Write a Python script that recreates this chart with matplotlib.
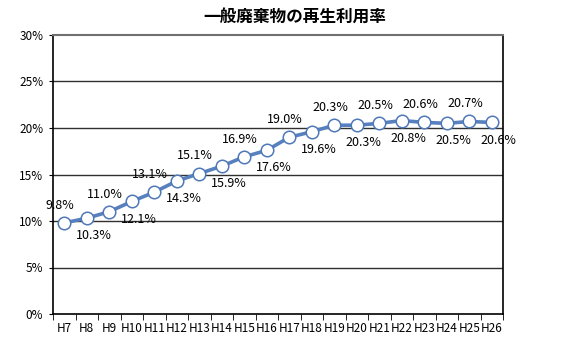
import matplotlib.pyplot as plt
import numpy as np

plt.rcParams['font.family'] = ['Noto Sans CJK JP', 'DejaVu Sans']

# data
years = ['H7', 'H8', 'H9', 'H10', 'H11', 'H12', 'H13', 'H14', 'H15', 'H16',
         'H17', 'H18', 'H19', 'H20', 'H21', 'H22', 'H23', 'H24', 'H25', 'H26']
rates = [9.8, 10.3, 11.0, 12.1, 13.1, 14.3, 15.1, 15.9, 16.9, 17.6,
         19.0, 19.6, 20.3, 20.3, 20.5, 20.8, 20.6, 20.5, 20.7, 20.6]
yticks = [0, 5, 10, 15, 20, 25, 30]

fig = plt.figure(figsize=(5.65, 3.4), dpi=100)
ax = fig.add_axes([53 / 565, 26 / 340, 450 / 565, 279 / 340])

x = np.arange(len(years))
ax.plot(x, rates, color='#5780bf', lw=2.6, marker='o', ms=9,
        mfc='white', mec='#4f78b8', mew=1.1, zorder=3)

# alternating data labels: above / below
for i, v in enumerate(rates):
    if i % 2 == 0:
        ax.annotate(f'{v:.1f}%', (i, v), xytext=(-3, 8), textcoords='offset points',
                    ha='center', va='bottom', fontsize=9)
    else:
        ax.annotate(f'{v:.1f}%', (i, v), xytext=(5, -8), textcoords='offset points',
                    ha='center', va='top', fontsize=9)

ax.set_xlim(-0.5, len(years) - 0.5)
ax.set_ylim(0, 30)
ax.set_yticks(yticks)
ax.set_yticklabels([f'{t}%' for t in yticks], fontsize=8.5)
ax.set_xticks(x)
ax.set_xticklabels(years, fontsize=8.5)
ax.set_xticks(np.arange(-0.5, len(years)), minor=True)
ax.tick_params(axis='x', which='major', length=0, pad=6)
ax.tick_params(axis='x', which='minor', length=4, direction='out')
ax.tick_params(axis='y', length=3, direction='out', pad=4)

for t in yticks[1:-1]:
    ax.axhline(t, color='#303030', lw=1.0, zorder=1)

for s in ['left', 'bottom', 'right']:
    ax.spines[s].set_color('black')
    ax.spines[s].set_linewidth(1.2)
ax.spines['top'].set_color('#707070')
ax.spines['top'].set_linewidth(1.5)

fig.text(295 / 565, 1 - 17 / 340, '一般廃棄物の再生利用率', ha='center', va='center',
         fontsize=12, fontweight='bold')

fig.savefig('out.png', dpi=100)
